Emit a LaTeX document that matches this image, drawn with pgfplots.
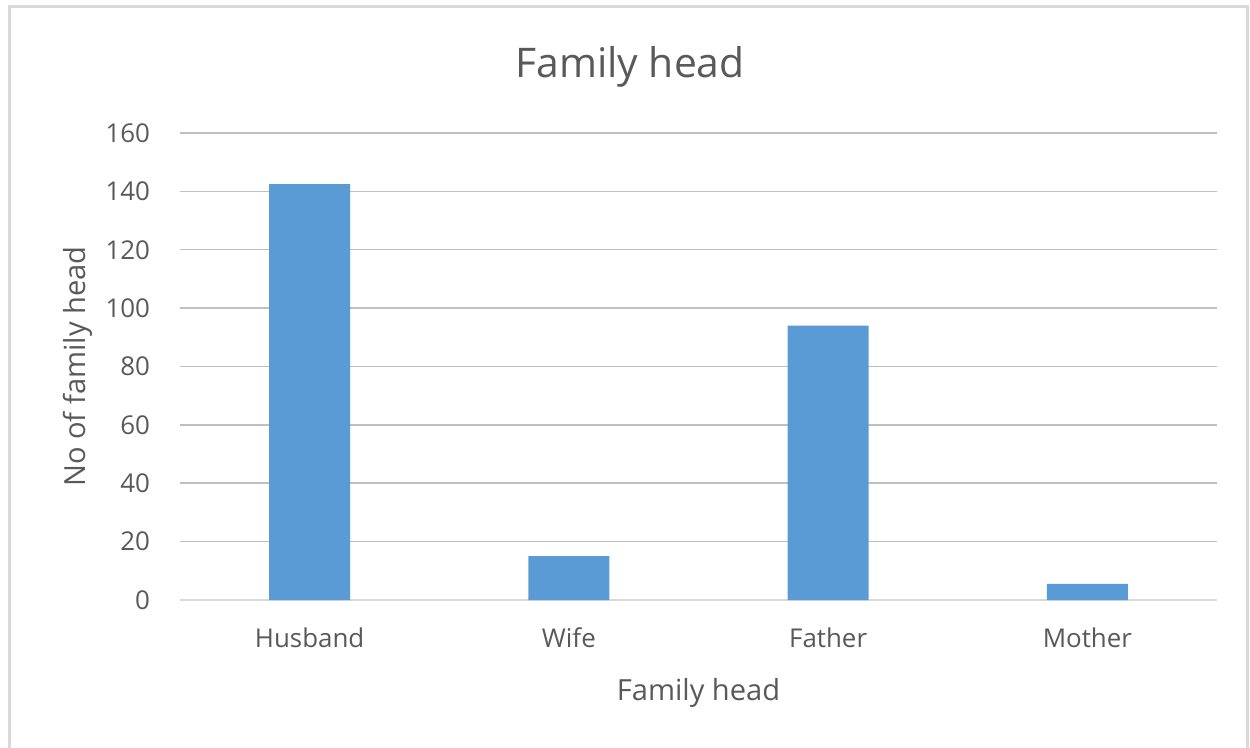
\documentclass[border=0pt]{standalone}
\usepackage{pgfplots}
\pgfplotsset{compat=1.18}
\usepackage{fontspec}
\setmainfont{Open Sans}
\definecolor{txt}{HTML}{595959}
\definecolor{grid}{HTML}{D9D9D9}
\definecolor{bar}{HTML}{5B9BD5}
\begin{document}
\begin{tikzpicture}
\useasboundingbox (0,0) rectangle (625bp,374bp);
\draw[grid, line width=1.5bp] (4.5bp,-5bp) -- (4.5bp,370.5bp) -- (623.5bp,370.5bp) -- (623.5bp,-5bp);
\begin{axis}[
  at={(90bp,74bp)}, anchor=south west,
  width=518.5bp, height=233.5bp, scale only axis,
  xmin=-0.5, xmax=3.5, ymin=0, ymax=160,
  xtick={0,1,2,3}, xticklabels={Husband,Wife,Father,Mother},
  ytick={0,20,...,160},
  major tick length=0pt,
  axis line style={draw=none},
  xmajorgrids=false, ymajorgrids=true, grid style={grid, line width=0.75bp},
  ticklabel style={font=\fontsize{13}{15}\selectfont, text=txt},
  /pgf/number format/assume math mode=true,
  yticklabel style={xshift=-11.5bp},
  xticklabel style={yshift=-10.5bp},
  title={Family head},
  title style={font=\fontsize{20.5}{24}\selectfont, text=txt, at={(axis description cs:0.434,1)}, anchor=center, yshift=27bp},
  xlabel={Family head},
  xlabel style={font=\fontsize{14.6}{17}\selectfont, text=txt, at={(axis description cs:0.5,0)}, anchor=center, yshift=-46.5bp},
  ylabel={No of family head},
  ylabel style={font=\fontsize{14.6}{17}\selectfont, text=txt, at={(axis description cs:-0.0984,0.5)}, anchor=center},
  clip=false,
]
\draw[grid, line width=0.75bp] (axis cs:-0.5,0) -- (axis cs:3.5,0);
\addplot[ybar, bar width=40.5bp, fill=bar, draw=none] coordinates {(0,142.5) (1,15) (2,94) (3,5.5)};
\end{axis}
\end{tikzpicture}
\end{document}
